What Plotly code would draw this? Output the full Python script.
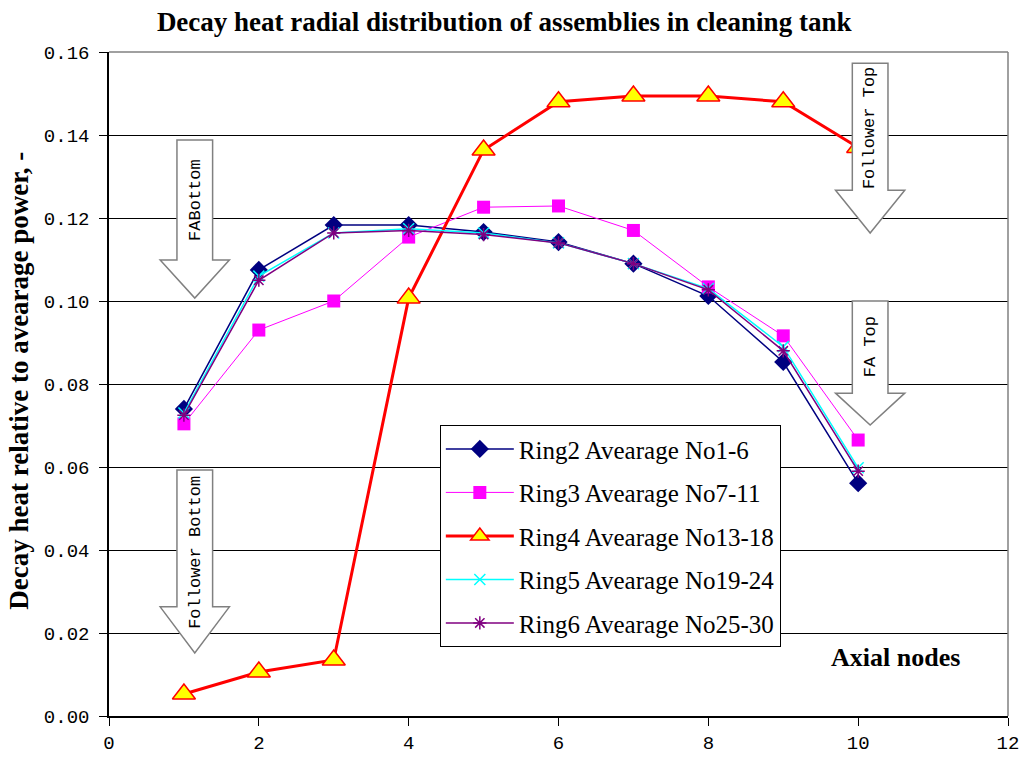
import plotly.graph_objects as go

# Axial node index
nodes = [1, 2, 3, 4, 5, 6, 7, 8, 9, 10]

# Decay heat relative to average power, per ring
ring2 = [0.0740, 0.1075, 0.1183, 0.1183, 0.1166, 0.1142, 0.1090, 0.1012, 0.0853, 0.0561]
ring3 = [0.0704, 0.0930, 0.1000, 0.1154, 0.1226, 0.1229, 0.1170, 0.1034, 0.0916, 0.0665]
ring4 = [0.0053, 0.0106, 0.0135, 0.1007, 0.1364, 0.1480, 0.1494, 0.1494, 0.1480, 0.1370]
ring5 = [0.0730, 0.1060, 0.1164, 0.1174, 0.1164, 0.1140, 0.1090, 0.1030, 0.0890, 0.0598]
ring6 = [0.0725, 0.1050, 0.1164, 0.1170, 0.1160, 0.1140, 0.1090, 0.1027, 0.0880, 0.0590]

series_names = [
    "Ring2 Avearage No1-6",
    "Ring3 Avearage No7-11",
    "Ring4 Avearage No13-18",
    "Ring5 Avearage No19-24",
    "Ring6 Avearage No25-30",
]

x_ticks = [0, 2, 4, 6, 8, 10, 12]
y_ticks = [0.00, 0.02, 0.04, 0.06, 0.08, 0.10, 0.12, 0.14, 0.16]

SERIF = "Liberation Serif, Times New Roman, serif"
MONO = "Liberation Mono, Courier New, monospace"

fig = go.Figure()

styles = [
    dict(values=ring2, line=dict(color="#000080", width=1.5),
         marker=dict(symbol="diamond", size=14, color="#000080")),
    dict(values=ring3, line=dict(color="#FF00FF", width=1),
         marker=dict(symbol="square", size=13, color="#FF00FF")),
    dict(values=ring4, line=dict(color="#FF0000", width=3),
         marker=dict(symbol="triangle-up", size=20, color="#FFFF00",
                     line=dict(color="#FF0000", width=1.5))),
    dict(values=ring5, line=dict(color="#00FFFF", width=1.5),
         marker=dict(symbol="x-thin-open", size=11, color="#00FFFF",
                     line=dict(color="#00FFFF", width=1.5))),
    dict(values=ring6, line=dict(color="#800080", width=1.5),
         marker=dict(symbol="asterisk-open", size=11, color="#800080",
                     line=dict(color="#800080", width=1.5))),
]

for i, (name, st) in enumerate(zip(series_names, styles)):
    fig.add_trace(go.Scatter(
        x=nodes, y=st["values"], name=name, mode="lines+markers",
        line=st["line"], marker=st["marker"], legendgroup=f"g{i}",
    ))


def block_arrow(xc, shaft_hw, head_hw, y_top, y_neck, y_tip):
    """SVG path of a downward block arrow in data coordinates."""
    pts = [
        (xc - shaft_hw, y_top), (xc + shaft_hw, y_top),
        (xc + shaft_hw, y_neck), (xc + head_hw, y_neck),
        (xc, y_tip), (xc - head_hw, y_neck),
        (xc - shaft_hw, y_neck),
    ]
    return "M " + " L ".join(f"{px},{py}" for px, py in pts) + " Z"


arrows = [
    # x centre, top, neck, tip, label, label y
    (1.145, 0.1388, 0.1099, 0.1007, "FABottom", 0.1243),
    (1.145, 0.0593, 0.0263, 0.0152, "Follower Bottom", 0.0395),
    (10.16, 0.1573, 0.1267, 0.1164, "Follower Top", 0.1417),
    (10.16, 0.1000, 0.0778, 0.0701, "FA Top", 0.0889),
]

for xc, yt, yn, ytip, label, ly in arrows:
    fig.add_shape(type="path", xref="x", yref="y",
                  path=block_arrow(xc, 0.238, 0.462, yt, yn, ytip),
                  fillcolor="white", line=dict(color="#808080", width=1.5),
                  layer="above")
    fig.add_annotation(x=xc, y=ly, xref="x", yref="y", text=label,
                       textangle=-90, showarrow=False,
                       xanchor="center", yanchor="middle",
                       font=dict(family=MONO, size=17, color="black"))

# gray frame on top and right of the plot area
fig.add_shape(type="line", xref="paper", yref="paper", x0=0, x1=1, y0=1, y1=1,
              line=dict(color="#808080", width=1.5))
fig.add_shape(type="line", xref="paper", yref="paper", x0=1, x1=1, y0=0, y1=1,
              line=dict(color="#808080", width=1.5))

fig.add_annotation(x=10.5, y=0.0140, xref="x", yref="y", text="<b>Axial nodes</b>",
                   showarrow=False, xanchor="center", yanchor="middle",
                   font=dict(family=SERIF, size=26, color="black"))

fig.add_annotation(x=-0.1, y=0.505, xref="paper", yref="paper",
                   text="<b>Decay heat relative to avearage power, -</b>",
                   textangle=-90, showarrow=False,
                   xanchor="center", yanchor="middle",
                   font=dict(family=SERIF, size=27, color="black"))

fig.update_layout(
    width=1031, height=767,
    margin=dict(l=109, r=14, t=52, b=51),
    paper_bgcolor="white", plot_bgcolor="white",
    title=dict(text="<b>Decay heat radial distribution of assemblies in cleaning tank</b>",
               x=0.489, xanchor="center", y=0.972, yanchor="middle",
               font=dict(family=SERIF, size=27, color="black")),
    xaxis=dict(range=[0, 12], tickvals=x_ticks, ticktext=[str(v) for v in x_ticks],
               showgrid=False, zeroline=False, showline=True, linecolor="black",
               linewidth=1.5, ticks="outside", ticklen=8, tickcolor="black",
               tickfont=dict(family=MONO, size=19, color="black")),
    yaxis=dict(range=[0, 0.16], tickvals=y_ticks, ticktext=[f"{v:.2f}" for v in y_ticks],
               showgrid=True, gridcolor="black", gridwidth=1, zeroline=False,
               showline=True, linecolor="black", linewidth=1.5, ticks="outside",
               ticklen=8, tickcolor="black", ticklabelstandoff=6,
               tickfont=dict(family=MONO, size=19, color="black")),
    legend=dict(x=0.368, y=0.438, xanchor="left", yanchor="top",
                bgcolor="white", bordercolor="black", borderwidth=1,
                font=dict(family=SERIF, size=25, color="black"),
                traceorder="grouped", tracegroupgap=8,
                itemwidth=68),
    showlegend=True,
)

fig.write_html("out.html")
